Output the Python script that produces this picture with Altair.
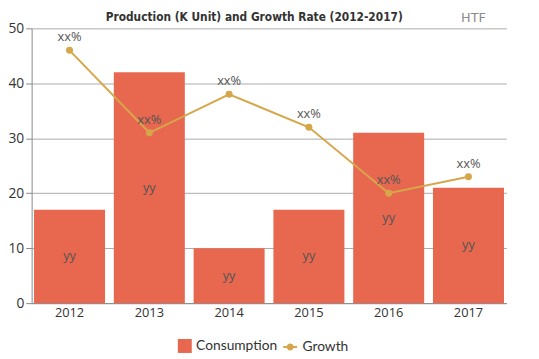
import altair as alt
import pandas as pd

years = ["2012", "2013", "2014", "2015", "2016", "2017"]
consumption = [17, 42, 10, 17, 31, 21]
growth = [46, 31, 38, 32, 20, 23]
bar_labels = ["yy"] * 6
line_labels = ["xx%"] * 6
title_text = "Production (K Unit) and Growth Rate (2012-2017)"

df = pd.DataFrame({
    "year": years,
    "consumption": consumption,
    "half": [v / 2 for v in consumption],
    "growth": growth,
    "bl": bar_labels,
    "ll": line_labels,
    "s1": ["Consumption"] * 6,
    "s2": ["Growth"] * 6,
})

BAR = "#e8684f"
GOLD = "#d6a74a"
FONT = "Open Sans"
LFONT = "Lato"

x = alt.X("year:N", title=None, sort=years,
          scale=alt.Scale(paddingInner=0.11, paddingOuter=0.03),
          axis=alt.Axis(labelAngle=0, ticks=False, labelFontSize=13, labelColor="#333",
                        labelFont=FONT, domainColor="#888", labelPadding=4))
yscale = alt.Scale(domain=[0, 50])
yaxis = alt.Axis(values=[0, 10, 20, 30, 40, 50], labelFontSize=14, labelColor="#333",
                 labelFont=FONT, tickColor="#888", tickSize=6, domainColor="#888",
                 gridColor="#aaaaaa", labelPadding=2)

base = alt.Chart(df)

bars = base.mark_bar(color=BAR).encode(
    x=x,
    y=alt.Y("consumption:Q", title=None, scale=yscale, axis=yaxis),
    color=alt.Color("s1:N", scale=alt.Scale(domain=["Consumption"], range=[BAR]),
                    legend=alt.Legend(title=None, orient="none", legendX=148, legendY=315,
                                      symbolType="square", symbolSize=200, padding=0,
                                      labelFontSize=14, labelFont=LFONT, labelColor="#333",
                                      symbolStrokeWidth=0)),
)

bar_text = base.mark_text(fontSize=13, color="#555", font=FONT).encode(
    x=alt.X("year:N", sort=years), y=alt.Y("half:Q"), text="bl:N")

line = base.mark_line(strokeWidth=2).encode(
    x=alt.X("year:N", sort=years),
    y=alt.Y("growth:Q"),
    stroke=alt.Stroke("s2:N", scale=alt.Scale(domain=["Growth"], range=[GOLD]),
                      legend=alt.Legend(title=None, orient="none", legendX=254, legendY=315,
                                        symbolType="M-1,0H1M0.35,0A0.35,0.35 0 1 1 -0.35,0A0.35,0.35 0 1 1 0.35,0",
                                        symbolSize=200, symbolFillColor=GOLD, symbolStrokeWidth=2,
                                        padding=0,
                                        labelFontSize=14, labelFont=LFONT, labelColor="#333")),
)

pts = base.mark_circle(size=50, color=GOLD, opacity=1).encode(
    x=alt.X("year:N", sort=years), y=alt.Y("growth:Q"))

line_text = base.mark_text(fontSize=13, color="#555", font=FONT, dy=-13).encode(
    x=alt.X("year:N", sort=years), y=alt.Y("growth:Q"), text="ll:N")

title = alt.Chart(pd.DataFrame({"t": [title_text]})).mark_text(
    fontSize=12, color="#333", font="DejaVu Sans Condensed", fontWeight="bold",
    align="center", baseline="middle"
).encode(x=alt.value(226), y=alt.value(-11), text="t:N")

logo = alt.Chart(pd.DataFrame({"t": ["HTF"]})).mark_text(
    fontSize=13, color="#8a8a8a", font="DejaVu Sans", align="left", baseline="middle"
).encode(x=alt.value(436), y=alt.value(-10), text="t:N")

chart = alt.layer(bars, bar_text, line, pts, line_text, title, logo).properties(
    width=482, height=279,
    autosize=alt.AutoSizeParams(type="none"),
    padding={"left": 24, "top": 18, "right": 25, "bottom": 50},
).configure_view(stroke=None)

chart.save("out.html", embed_options={"renderer": "svg", "actions": False})
